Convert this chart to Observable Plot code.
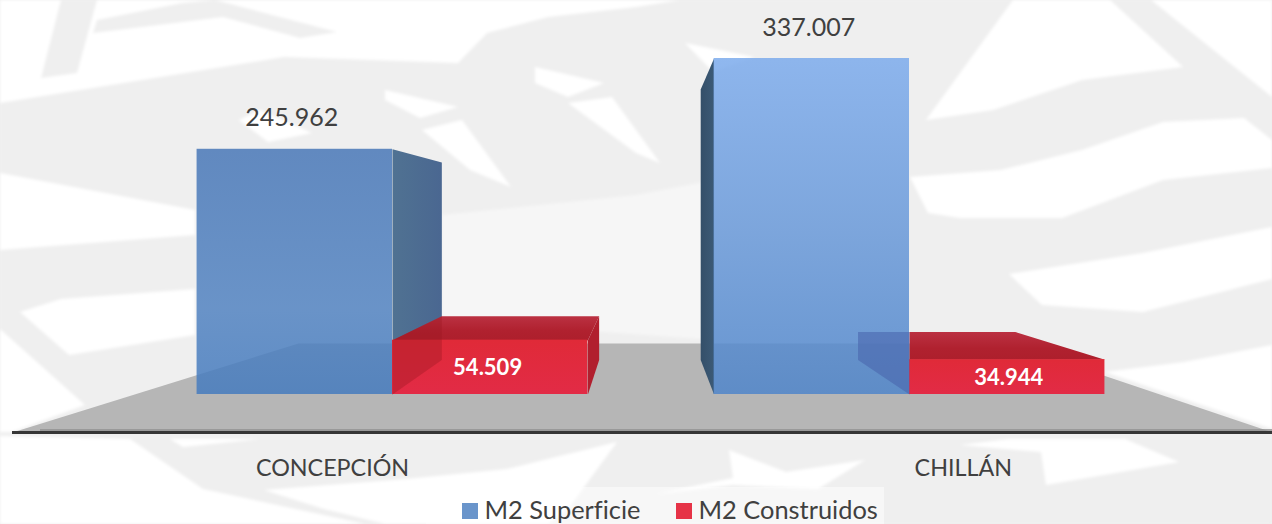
<!DOCTYPE html>
<html lang="es">
<head>
<meta charset="utf-8">
<script src="https://cdn.jsdelivr.net/npm/d3@7"></script>
<script src="https://cdn.jsdelivr.net/npm/@observablehq/plot@0.6"></script>
<style>
  html,body{margin:0;padding:0;background:#efefef;width:1272px;height:524px;overflow:hidden;}
  #page{position:relative;width:1272px;height:524px;font-family:Lato,sans-serif;overflow:hidden;}
  #bg{position:absolute;left:0;top:0;filter:blur(1.6px);}
  #chart{position:absolute;left:0;top:0;}
  #legend{position:absolute;left:0;top:487px;width:1272px;height:37px;color:#404040;font-size:25.4px;font-variant-ligatures:none;}
  #legend .panel{position:absolute;left:426px;top:0;width:458px;height:37px;background:rgba(255,255,255,.5);}
  #legend .sw{position:absolute;top:16px;width:16px;height:16px;}
  #legend .lb{position:absolute;top:7px;line-height:30px;height:30px;white-space:nowrap;}
</style>
</head>
<body>
<div id="page"><div id="bg"></div><div id="chart"></div><div id="legend"></div></div>
<script>
// ---- data
const categories = ["CONCEPCIÓN", "CHILLÁN"];
const superficie = [245962, 337007];
const construidos = [54509, 34944];
const seriesNames = ["M2 Superficie", "M2 Construidos"];
const seriesColors = ["#6a95cb", "#e63347"];

// ---- layout
const W = 1272, H = 487;
const barWidth = 0.378;                 // in group units
const labelX = [-0.116, 1.104];         // category label positions (group units)
const redLabelNudge = [-0.005, 0.003];  // group units
const ux = p => (p - 392) / 517;        // page px -> group units
const uv = p => (394 - p) / 336 * 337007; // page px -> value
const vanish = {x: ux(645), y: uv(217)};
const depth = 0.195;
const back = (x, y) => ({x: x + depth * (vanish.x - x), y: y + depth * (vanish.y - y)});
const fmt = d3.formatLocale({decimal: ",", thousands: ".", grouping: [3], currency: ["", ""]}).format(",");

// ---- watermark behind the chart (decoration only)
const whites = [
  [[0,0],[680,0],[636,7],[548,17],[487,33],[458,63],[284,57],[0,103]],
  [[0,173],[195,210],[195,235],[0,250]],
  [[20,312],[61,299],[195,289],[195,335],[69,355]],
  [[0,329],[85,405],[12,432],[0,432]],
  [[0,436],[130,439],[203,489],[365,524],[0,524]],
  [[264,490],[406,479],[507,469],[617,442],[568,509],[548,524],[385,524],[324,509]],
  [[170,439],[260,439],[183,447]],
  [[385,90],[458,107],[420,118],[385,100]],
  [[535,67],[604,83],[568,97],[535,83]],
  [[422,130],[462,120],[511,187],[470,170]],
  [[568,103],[612,97],[660,163],[636,153]],
  [[239,120],[260,110],[312,133],[268,142]],
  [[685,43],[754,57],[713,72]],
  [[1013,0],[1110,0],[1183,67],[1082,80],[993,110],[926,120]],
  [[1151,0],[1272,0],[1272,97]],
  [[910,177],[1001,170],[1082,150],[1163,122],[1244,118],[1272,140],[1272,168],[1163,180],[1062,218],[960,218],[928,213]],
  [[1272,227],[1143,253],[1009,274],[1042,305],[1143,312],[1272,279]],
  [[1105,372],[1184,362],[1272,345],[1272,429]],
  [[729,450],[786,472],[865,460],[818,489],[733,485],[656,494],[733,478]],
  [[1009,439],[1125,439],[1179,462],[1046,485],[1041,452],[960,445]]
];
const lights = [[[442,215],[636,195],[714,180],[714,340],[442,320]]];
const grays = [
  [[61,0],[97,0],[77,73],[41,78]],
  [[97,20],[182,3],[215,0],[337,32],[300,38],[223,17],[93,33]]
];
const bg = d3.create("svg").attr("width", W).attr("height", 524).style("display", "block");
bg.append("rect").attr("x", -10).attr("y", -10).attr("width", W + 20).attr("height", 544).attr("fill", "#efefef");
const poly = (list, fill) => list.forEach(p => bg.append("polygon").attr("points", p.join(" ")).attr("fill", fill));
poly(lights, "#f6f6f6");
poly(whites, "#ffffff");
poly(grays, "#efefef");
document.getElementById("bg").append(bg.node());

// ---- gradients
function gradientDefs() {
  const svg = d3.create("svg:defs");
  const add = (id, stops, horizontal) => {
    const g = svg.append("linearGradient").attr("id", id)
      .attr("x1", 0).attr("y1", 0).attr("x2", horizontal ? 1 : 0).attr("y2", horizontal ? 0 : 1);
    stops.forEach(([o, c]) => g.append("stop").attr("offset", o).attr("stop-color", c));
  };
  add("blue0", [[0, "#4877b7"], [0.65, "#5283c1"], [1, "#457bbe"]]);
  add("blue1", [[0, "#7cabec"], [0.5, "#6999d9"], [1, "#4f85ca"]]);
  add("side0", [[0, "#507292"], [1, "#4a6791"]], true);
  add("side1", [[0, "#344f69"], [1, "#3c5a76"]], true);
  add("redFront", [[0, "#e02a38"], [1, "#e22b46"]]);
  add("redTop", [[0, "#bb3142"], [0.6, "#b0212f"], [1, "#ad1f2c"]]);
  return svg.node();
}

// ---- faces derived from values through the box projection
const face = (pts, fill, fillOpacity = 1) =>
  Plot.line(pts.map(([x, y]) => ({x, y})), {x: "x", y: "y", fill, fillOpacity, stroke: "none"});
const boxes = categories.map((c, i) => ({
  i,
  blue: {x0: i - barWidth, x1: i, v: superficie[i]},
  red: {x0: i, x1: i + barWidth, v: construidos[i]}
}));
const P = (x, y) => { const b = back(x, y); return [b.x, b.y]; };

const blueSides = boxes.map(({i, blue: b}) => {
  const e = i === 0 ? b.x1 : b.x0;
  return face([[e, b.v], P(e, b.v), P(e, 0), [e, 0]], `url(#side${i})`);
});
const redBack = boxes.flatMap(({i, red: r}) => {
  const bx0 = Math.max(back(r.x0, r.v).x, i === 1 ? r.x0 : -Infinity);
  const bv = back(r.x0, r.v).y;
  const out = [face([[r.x0, r.v], [r.x1, r.v], P(r.x1, r.v), [bx0, bv]], "url(#redTop)")];
  if (r.x1 < vanish.x) out.push(face([[r.x1, r.v], P(r.x1, r.v), P(r.x1, 0), [r.x1, 0]], "#b11f2e"));
  return out;
});
const redGhosts = [
  // the blue wall seen through the red box (Concepción)
  (() => { const r = boxes[0].red; return face([[r.x0, r.v], P(r.x0, r.v), P(r.x0, 0), [r.x0, 0]], "#9c1722", 0.38); })(),
  // the red box's hidden wall seen through the blue bar (Chillán)
  (() => { const r = boxes[1].red; const t = back(r.x0, r.v), b = back(r.x0, 0);
           return face([[t.x, t.y], [r.x0, t.y], [r.x0, 0], [b.x, b.y]], "#4a68ae", 0.62); })()
];

const floorPts = [[ux(12), uv(432)], [ux(298), uv(343)], [ux(1008), uv(343)], [ux(1272), uv(432)]];
const blueRows = boxes.map(b => ({...b.blue, fill: `url(#blue${b.i})`}));
const redRows = boxes.map(b => b.red);

const plot = Plot.plot({
  width: W, height: H,
  margin: 0,
  style: {background: "transparent", fontFamily: "Lato, sans-serif"},
  x: {domain: [0, 1], range: [392, 909], axis: null},
  y: {domain: [0, 337007], range: [394, 58], axis: null},
  marks: [
    () => gradientDefs(),
    face(floorPts, "#b6b6b6"),
    Plot.ruleY([uv(429.5)], {x1: ux(40), x2: ux(1272), stroke: "#8f8f8f", strokeWidth: 1.5}),
    Plot.ruleY([uv(432)], {x1: ux(12), x2: ux(1272), stroke: "#363636", strokeWidth: 3}),
    ...blueSides,
    ...redBack,
    ...blueRows.map(r => Plot.rect([r], {x1: "x0", x2: "x1", y1: 0, y2: "v", fill: r.fill, fillOpacity: 0.85})),
    Plot.rect(redRows, {x1: "x0", x2: "x1", y1: 0, y2: "v", fill: "url(#redFront)"}),
    ...redGhosts,
    Plot.text(boxes, {x: d => d.blue.x0 + barWidth / 2, y: d => d.blue.v, text: d => fmt(d.blue.v),
      dy: -31, dx: -3, fill: "#404040", fontSize: 25, textAnchor: "middle", fontFamily: "Lato, sans-serif"}),
    Plot.text(boxes, {x: d => d.red.x0 + barWidth / 2 + redLabelNudge[d.i], y: d => d.red.v / 2, text: d => fmt(d.red.v),
      dy: 1, dx: 0, fill: "#ffffff", fontSize: 22, fontWeight: 700, textAnchor: "middle", fontFamily: "Lato, sans-serif"}),
    Plot.text(categories, {x: (d, i) => labelX[i], y: () => uv(468), text: d => d,
      fill: "#404040", fontSize: 23.3, textAnchor: "middle", fontFamily: "Lato, sans-serif"})
  ]
});
document.getElementById("chart").append(plot);

// ---- legend below the SVG
const legend = d3.select("#legend");
legend.append("div").attr("class", "panel");
const swatchX = [462, 676];
seriesNames.forEach((name, i) => {
  legend.append("div").attr("class", "sw").style("left", swatchX[i] + "px").style("background", seriesColors[i]);
  legend.append("div").attr("class", "lb").style("left", (swatchX[i] + 22.5) + "px").text(name);
});
</script>
</body>
</html>
